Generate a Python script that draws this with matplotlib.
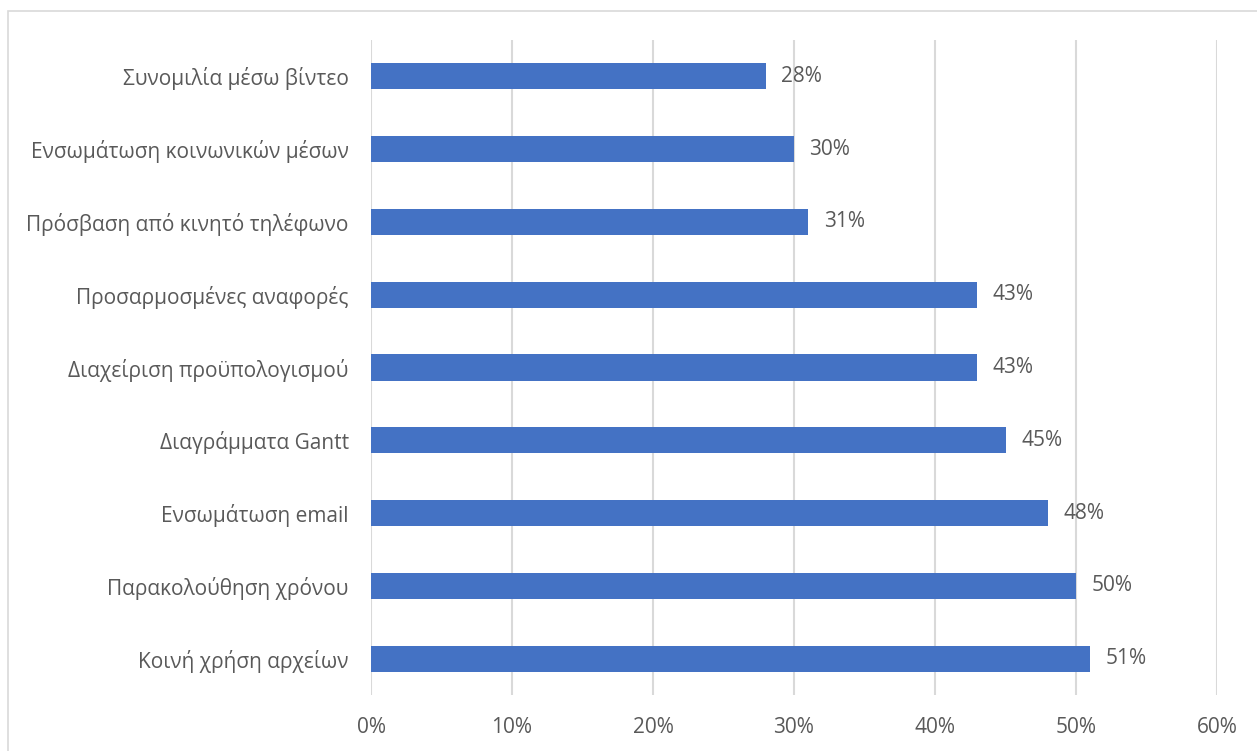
import matplotlib.pyplot as plt
import matplotlib.ticker as mticker
from matplotlib.patches import Rectangle

categories = [
    "Κοινή χρήση αρχείων",
    "Παρακολούθηση χρόνου",
    "Ενσωμάτωση email",
    "Διαγράμματα Gantt",
    "Διαχείριση προϋπολογισμού",
    "Προσαρμοσμένες αναφορές",
    "Πρόσβαση από κινητό τηλέφωνο",
    "Ενσωμάτωση κοινωνικών μέσων",
    "Συνομιλία μέσω βίντεο",
]
values = [0.51, 0.50, 0.48, 0.45, 0.43, 0.43, 0.31, 0.30, 0.28]
xticks = [0, 0.1, 0.2, 0.3, 0.4, 0.5, 0.6]

plt.rcParams["font.family"] = ["Open Sans", "DejaVu Sans"]
TEXT = "#595959"
BAR = "#4472C4"
GRID = "#D9D9D9"
FS = 15

fig = plt.figure(figsize=(12.57, 7.51), dpi=100)
ax = fig.add_axes([371 / 1257, 56 / 751, 846 / 1257, 655 / 751])

# outer chart border
fig.patches.append(Rectangle((8 / 1257, -0.05), 1.1, (751 - 11) / 751 + 0.05,
                             transform=fig.transFigure, fill=False,
                             edgecolor=GRID, linewidth=1.2))

y = range(len(categories))
ax.barh(list(y), values, height=0.36, color=BAR, zorder=3)

for i, v in enumerate(values):
    ax.text(v + 0.011, i, f"{v * 100:.0f}%", va="center", ha="left",
            fontsize=FS, color=TEXT)

ax.set_xlim(0, 0.6)
ax.set_ylim(-0.5, len(categories) - 0.5)
ax.set_xticks(xticks)
ax.xaxis.set_major_formatter(mticker.FuncFormatter(lambda v, _: f"{v * 100:.0f}%"))
ax.set_yticks(list(y))
ax.set_yticklabels(categories)
ax.tick_params(axis="x", length=0, pad=16, labelsize=FS, labelcolor=TEXT)
ax.tick_params(axis="y", length=0, pad=16, labelsize=FS, labelcolor=TEXT)
ax.grid(axis="x", color=GRID, linewidth=1.5, zorder=0)
for s in ax.spines.values():
    s.set_visible(False)

plt.savefig("out.png", dpi=100)
